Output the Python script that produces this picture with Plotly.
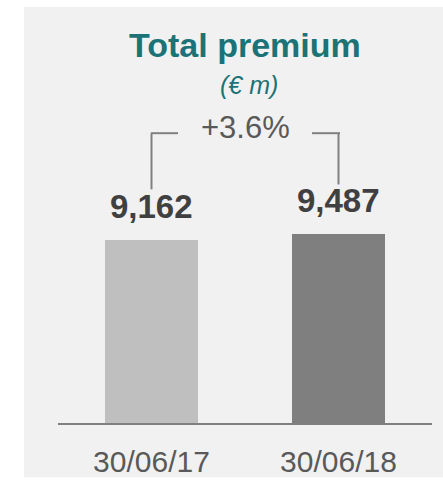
import plotly.graph_objects as go

categories = ["30/06/17", "30/06/18"]
values = [9162, 9487]
value_labels = ["9,162", "9,487"]
bar_colors = ["#bfbfbf", "#7f7f7f"]
title_text = "Total premium"
unit_text = "(€ m)"
change_text = "+3.6%"

W, H = 443, 485
ML, MR, MT, MB = 58, 11, 7, 56
plot_h = H - MT - MB
ymax = 20850

FONT = "Liberation Sans, Arial, sans-serif"

def py(p):
    # pixel y -> paper y
    return (H - MB - p) / plot_h

def px(p):
    return (p - ML) / (W - ML - MR)

fig = go.Figure()
fig.add_trace(go.Bar(
    x=categories, y=values, marker_color=bar_colors, width=0.5,
    marker_line_width=0, hoverinfo="skip",
))

# background panel
fig.add_shape(type="rect", xref="paper", yref="paper",
              x0=px(24), x1=px(443), y0=py(484), y1=py(7),
              fillcolor="#f1f1f1", line_width=0, layer="below")

# value labels
for c, v, t in zip(categories, values, value_labels):
    fig.add_annotation(x=c, y=v, text=f"<b>{t}</b>", showarrow=False,
                       yanchor="bottom", yshift=13,
                       font=dict(family=FONT, size=33, color="#404040"))

# bracket
gcol = "#808080"
top = py(135)
left_bot = py(192)
right_bot = py(187)
fig.add_shape(type="line", xref="x", yref="paper", x0=0, x1=0, y0=left_bot, y1=top,
              line=dict(color=gcol, width=2))
fig.add_shape(type="line", xref="paper", yref="paper", x0=px(151), x1=px(178), y0=top, y1=top,
              line=dict(color=gcol, width=2))
fig.add_shape(type="line", xref="x", yref="paper", x0=1, x1=1, y0=right_bot, y1=top,
              line=dict(color=gcol, width=2))
fig.add_shape(type="line", xref="paper", yref="paper", x0=px(312), x1=px(340), y0=top, y1=top,
              line=dict(color=gcol, width=2))

fig.add_annotation(xref="paper", yref="paper", x=0.5, y=py(129), text=change_text,
                   showarrow=False, yanchor="middle",
                   font=dict(family=FONT, size=31, color="#595959"))

fig.add_annotation(xref="paper", yref="paper", x=0.5, y=py(46), text=f"<b>{title_text}</b>",
                   showarrow=False, yanchor="middle",
                   font=dict(family=FONT, size=34, color="#1b7377"))
fig.add_annotation(xref="paper", yref="paper", x=0.5, xshift=4, y=py(86), text=f"<i>{unit_text}</i>",
                   showarrow=False, yanchor="middle",
                   font=dict(family=FONT, size=25, color="#1b7377"))

fig.update_layout(
    width=W, height=H,
    margin=dict(l=ML, r=MR, t=MT, b=MB, pad=0),
    paper_bgcolor="white", plot_bgcolor="rgba(0,0,0,0)",
    showlegend=False, bargap=0,
    xaxis=dict(showline=True, linecolor=gcol, linewidth=2, ticks="",
               showgrid=False, zeroline=False,
               tickfont=dict(family=FONT, size=30, color="#595959"),
               ticklabelstandoff=11, fixedrange=True),
    yaxis=dict(range=[0, ymax], visible=False, showgrid=False, zeroline=False,
               fixedrange=True),
)

fig.write_html("out.html", config={"displayModeBar": False},
               post_script="document.body.style.margin='0';document.body.style.overflow='hidden';")
